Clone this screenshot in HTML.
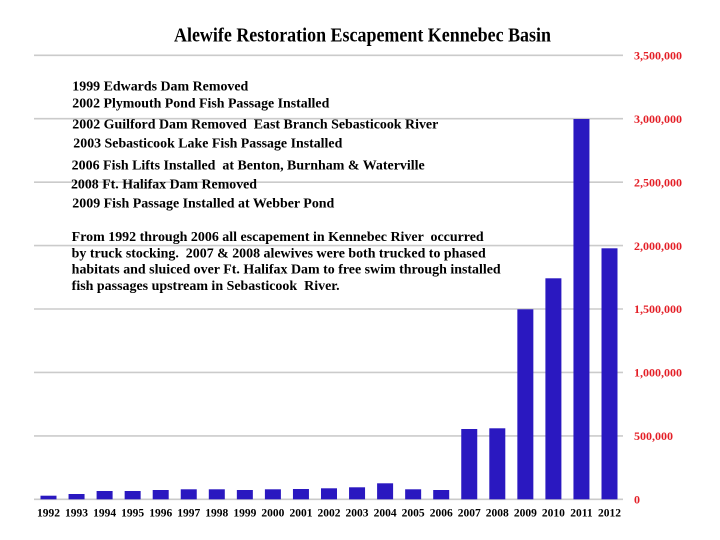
<!DOCTYPE html>
<html>
<head>
<meta charset="utf-8">
<style>
  html,body{margin:0;padding:0;background:#fff;}
  svg{display:block;}
  text{font-family:"Liberation Serif","Times New Roman",serif;font-weight:bold;}
</style>
</head>
<body>
<svg width="720" height="540" viewBox="0 0 720 540" xmlns="http://www.w3.org/2000/svg">
  <rect width="720" height="540" fill="#fff"/>

  <!-- Title -->
  <text x="174" y="41.7" font-size="20" fill="#000" textLength="377" lengthAdjust="spacingAndGlyphs">Alewife Restoration Escapement Kennebec Basin</text>

  <!-- Gridlines -->
  <g stroke="#cbcbcb" stroke-width="1.6">
    <line x1="34" y1="55.3" x2="623" y2="55.3"/>
    <line x1="34" y1="118.7" x2="623" y2="118.7"/>
    <line x1="34" y1="182.2" x2="623" y2="182.2"/>
    <line x1="34" y1="245.6" x2="623" y2="245.6"/>
    <line x1="34" y1="309.0" x2="623" y2="309.0"/>
    <line x1="34" y1="372.4" x2="623" y2="372.4"/>
    <line x1="34" y1="435.9" x2="623" y2="435.9"/>
    <line x1="34" y1="499.3" x2="623" y2="499.3"/>
  </g>

  <!-- Axis labels -->
  <g font-size="12" fill="#e41e26">
    <text x="634" y="59.5">3,500,000</text>
    <text x="634" y="122.9">3,000,000</text>
    <text x="634" y="186.4">2,500,000</text>
    <text x="634" y="249.8">2,000,000</text>
    <text x="634" y="313.2">1,500,000</text>
    <text x="634" y="376.6">1,000,000</text>
    <text x="634" y="440.1">500,000</text>
    <text x="634" y="503.5">0</text>
  </g>

  <!-- Bars -->
  <g fill="#2a18c0">
    <rect x="40.5" y="495.7" width="16" height="3.6"/>
    <rect x="68.55" y="494.0" width="16" height="5.3"/>
    <rect x="96.6" y="491.0" width="16" height="8.3"/>
    <rect x="124.65" y="491.0" width="16" height="8.3"/>
    <rect x="152.7" y="490.0" width="16" height="9.3"/>
    <rect x="180.75" y="489.3" width="16" height="10"/>
    <rect x="208.8" y="489.3" width="16" height="10"/>
    <rect x="236.85" y="490.0" width="16" height="9.3"/>
    <rect x="264.9" y="489.3" width="16" height="10"/>
    <rect x="292.95" y="489.0" width="16" height="10.3"/>
    <rect x="321.0" y="488.3" width="16" height="11"/>
    <rect x="349.05" y="487.3" width="16" height="12"/>
    <rect x="377.1" y="483.3" width="16" height="16"/>
    <rect x="405.15" y="489.3" width="16" height="10"/>
    <rect x="433.2" y="490.0" width="16" height="9.3"/>
    <rect x="461.25" y="429.0" width="16" height="70.3"/>
    <rect x="489.3" y="428.3" width="16" height="71"/>
    <rect x="517.35" y="309.3" width="16" height="190"/>
    <rect x="545.4" y="278.3" width="16" height="221"/>
    <rect x="573.45" y="119.0" width="16" height="380.3"/>
    <rect x="601.5" y="248.3" width="16" height="251"/>
  </g>

  <!-- Year labels -->
  <g font-size="11.5" fill="#000" text-anchor="middle">
    <text x="48.5" y="516.5">1992</text>
    <text x="76.55" y="516.5">1993</text>
    <text x="104.6" y="516.5">1994</text>
    <text x="132.65" y="516.5">1995</text>
    <text x="160.7" y="516.5">1996</text>
    <text x="188.75" y="516.5">1997</text>
    <text x="216.8" y="516.5">1998</text>
    <text x="244.85" y="516.5">1999</text>
    <text x="272.9" y="516.5">2000</text>
    <text x="300.95" y="516.5">2001</text>
    <text x="329.0" y="516.5">2002</text>
    <text x="357.05" y="516.5">2003</text>
    <text x="385.1" y="516.5">2004</text>
    <text x="413.15" y="516.5">2005</text>
    <text x="441.2" y="516.5">2006</text>
    <text x="469.25" y="516.5">2007</text>
    <text x="497.3" y="516.5">2008</text>
    <text x="525.35" y="516.5">2009</text>
    <text x="553.4" y="516.5">2010</text>
    <text x="581.45" y="516.5">2011</text>
    <text x="609.5" y="516.5">2012</text>
  </g>

  <!-- Annotations -->
  <g font-size="13.5" fill="#000" style="white-space:pre">
    <text x="72.3" y="90.7" textLength="176" lengthAdjust="spacingAndGlyphs">1999 Edwards Dam Removed</text>
    <text x="72.3" y="107.5" textLength="257" lengthAdjust="spacingAndGlyphs">2002 Plymouth Pond Fish Passage Installed</text>
    <text x="72.3" y="128.3" textLength="366" lengthAdjust="spacingAndGlyphs" xml:space="preserve">2002 Guilford Dam Removed  East Branch Sebasticook River</text>
    <text x="73.3" y="147.5" textLength="269" lengthAdjust="spacingAndGlyphs">2003 Sebasticook Lake Fish Passage Installed</text>
    <text x="71.7" y="169.3" textLength="353" lengthAdjust="spacingAndGlyphs" xml:space="preserve">2006 Fish Lifts Installed  at Benton, Burnham &amp; Waterville</text>
    <text x="71" y="188.3" textLength="186" lengthAdjust="spacingAndGlyphs">2008 Ft. Halifax Dam Removed</text>
    <text x="72.3" y="207.7" textLength="262" lengthAdjust="spacingAndGlyphs">2009 Fish Passage Installed at Webber Pond</text>

    <text x="71.7" y="241" textLength="412" lengthAdjust="spacingAndGlyphs" xml:space="preserve">From 1992 through 2006 all escapement in Kennebec River  occurred</text>
    <text x="71.7" y="257.4" textLength="414" lengthAdjust="spacingAndGlyphs" xml:space="preserve">by truck stocking.  2007 &amp; 2008 alewives were both trucked to phased</text>
    <text x="71.7" y="273.7" textLength="429" lengthAdjust="spacingAndGlyphs">habitats and sluiced over Ft. Halifax Dam to free swim through installed</text>
    <text x="71.7" y="290" textLength="268" lengthAdjust="spacingAndGlyphs" xml:space="preserve">fish passages upstream in Sebasticook  River.</text>
  </g>
</svg>
</body>
</html>
